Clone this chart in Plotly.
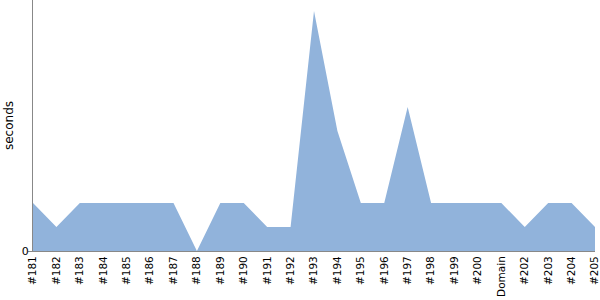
import plotly.graph_objects as go

categories = ["#181", "#182", "#183", "#184", "#185", "#186", "#187", "#188", "#189", "#190",
              "#191", "#192", "#193", "#194", "#195", "#196", "#197", "#198", "#199", "#200",
              "Domain", "#202", "#203", "#204", "#205"]
seconds = [2, 1, 2, 2, 2, 2, 2, 0, 2, 2, 1, 1, 10, 5, 2, 2, 6, 2, 2, 2, 2, 1, 2, 2, 1]

fig = go.Figure(go.Scatter(
    x=list(range(len(categories))), y=seconds,
    mode="lines", line=dict(width=0, color="rgb(145,179,219)"),
    fill="tozeroy", fillcolor="rgb(145,179,219)", hoverinfo="skip",
))

fig.update_layout(
    width=600, height=300,
    margin=dict(l=33, r=5, t=0, b=49),
    paper_bgcolor="white", plot_bgcolor="white",
    showlegend=False,
    font=dict(family="DejaVu Sans", size=11, color="black"),
    xaxis=dict(
        range=[0, len(categories) - 1],
        tickmode="array", tickvals=list(range(len(categories))), ticktext=categories,
        tickangle=-90, showgrid=False, zeroline=False,
        showline=True, linecolor="#888888", linewidth=1,
        ticks="", tickfont=dict(size=10.5), ticklabeloverflow="allow",
        automargin=False,
    ),
    yaxis=dict(
        range=[0, 10.46],
        tickmode="array", tickvals=[0], ticktext=["0"],
        showgrid=False, zeroline=False,
        showline=True, linecolor="#888888", linewidth=1,
        ticks="outside", ticklen=4, tickcolor="#888888",
        ticklabelstandoff=-3,
        title=dict(text="seconds", standoff=5, font=dict(size=12)),
        tickfont=dict(size=11), automargin=False,
    ),
)

fig.write_html("out.html")
